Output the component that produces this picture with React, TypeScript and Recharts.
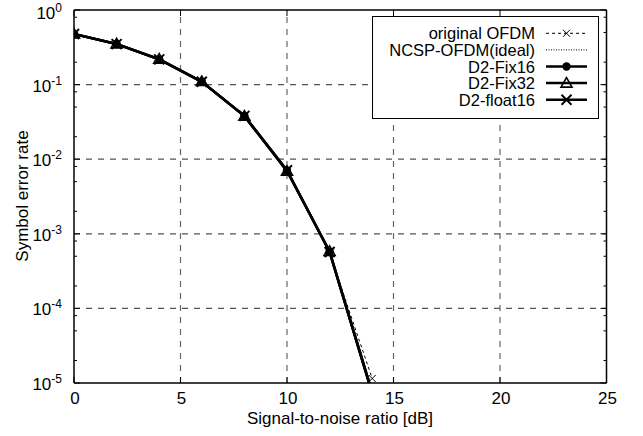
import React from 'react';
import { ComposedChart, Line, XAxis, YAxis, ReferenceLine, Legend } from 'recharts';

const snrDb = [0, 2, 4, 6, 8, 10, 12, 14];
const originalOfdm = [0.476, 0.35, 0.217, 0.108, 0.0375, 0.0068, 5.5e-4, 1.15e-5];
const ncspIdeal = [0.477, 0.35, 0.218, 0.109, 0.038, 0.007, 5.9e-4, 8.4e-6];
const d2Fix16 = [0.477, 0.35, 0.218, 0.109, 0.038, 0.007, 5.75e-4, 7.3e-6];
const d2Fix32 = [0.478, 0.351, 0.219, 0.11, 0.0378, 0.0069, 5.8e-4, 7.4e-6];
const d2Float16 = [0.476, 0.349, 0.218, 0.109, 0.0381, 0.0071, 5.7e-4, 7.2e-6];

const seriesNames = ['original OFDM', 'NCSP-OFDM(ideal)', 'D2-Fix16', 'D2-Fix32', 'D2-float16'];

const xTicks = [0, 5, 10, 15, 20, 25];
const xGridValues = [5, 10, 15, 20];
const yExponents = [-5, -4, -3, -2, -1, 0];
const yMinorMultipliers = [2, 5, 8];
const yGridValues = [1e-4, 1e-3, 1e-2, 1e-1];
const yDomain = [1e-5, 1];

const yTicks: number[] = [];
yExponents.forEach((e) => {
  yTicks.push(Math.pow(10, e));
  if (e < 0) yMinorMultipliers.forEach((m) => yTicks.push(m * Math.pow(10, e)));
});

const data = snrDb.map((snr, i) => ({
  snr,
  ofdm: originalOfdm[i],
  ncsp: ncspIdeal[i],
  fix16: d2Fix16[i],
  fix32: d2Fix32[i],
  float16: d2Float16[i],
}));

const FONT = '"Liberation Sans", Arial, Helvetica, sans-serif';

const isMajor = (v: number) => {
  const lg = Math.log10(v);
  return Math.abs(lg - Math.round(lg)) < 1e-6;
};

const LeftTick = (props: any) => {
  const { x, y, payload } = props;
  const v = payload.value;
  const major = isMajor(v);
  return (
    <g>
      <line x1={x} x2={x + (major ? 6 : 3)} y1={y} y2={y} stroke="#000" strokeWidth={1} />
      {major && (
        <text x={x - 12} y={Math.max(y + 7, 19)} textAnchor="end" fontSize={17} fontFamily={FONT} fill="#000">
          <tspan>10</tspan>
          <tspan dy={-7} fontSize={12}>{String(Math.round(Math.log10(v)))}</tspan>
        </text>
      )}
    </g>
  );
};

const RightTick = (props: any) => {
  const { x, y, payload } = props;
  const major = isMajor(payload.value);
  return <line x1={x} x2={x - (major ? 6 : 3)} y1={y} y2={y} stroke="#000" strokeWidth={1} />;
};

const BottomTick = (props: any) => {
  const { x, y, payload } = props;
  return (
    <g>
      <line x1={x} x2={x} y1={y} y2={y - 6} stroke="#000" strokeWidth={1} />
      <text x={x + 1} y={y + 21} textAnchor="middle" fontSize={17} fontFamily={FONT} fill="#000">
        {payload.value}
      </text>
    </g>
  );
};

const TopTick = (props: any) => {
  const { x, y } = props;
  return <line x1={x} x2={x} y1={y} y2={y + 6} stroke="#000" strokeWidth={1} />;
};

const CrossMark = ({ cx, cy, s, sw }: any) => (
  <g>
    <line x1={cx - s} y1={cy - s} x2={cx + s} y2={cy + s} stroke="#000" strokeWidth={sw} />
    <line x1={cx - s} y1={cy + s} x2={cx + s} y2={cy - s} stroke="#000" strokeWidth={sw} />
  </g>
);

const CircleMark = ({ cx, cy }: any) => <circle cx={cx} cy={cy} r={4.2} fill="#000" />;

const TriMark = ({ cx, cy }: any) => (
  <polygon
    points={`${cx},${cy - 5.5} ${cx - 5.5},${cy + 4} ${cx + 5.5},${cy + 4}`}
    fill="none"
    stroke="#000"
    strokeWidth={1.6}
  />
);

const visible = (p: any) =>
  p && p.value !== undefined && p.value >= yDomain[0] && p.cx != null && p.cy != null;

const ofdmDot = (p: any) =>
  visible(p) ? <CrossMark key={p.key} cx={p.cx} cy={p.cy} s={3.5} sw={1} /> : <g key={p.key} />;
const fix16Dot = (p: any) => (visible(p) ? <CircleMark key={p.key} cx={p.cx} cy={p.cy} /> : <g key={p.key} />);
const fix32Dot = (p: any) => (visible(p) ? <TriMark key={p.key} cx={p.cx} cy={p.cy} /> : <g key={p.key} />);
const float16Dot = (p: any) =>
  visible(p) ? <CrossMark key={p.key} cx={p.cx} cy={p.cy} s={5} sw={2} /> : <g key={p.key} />;

const renderLegend = () => {
  const w = 227;
  const h = 103;
  const textX = 163;
  const l1 = 174;
  const l2 = 215;
  const mx = 194.5;
  return (
    <svg width={w} height={h} style={{ display: 'block' }}>
      <rect x={0.5} y={0.5} width={w - 1} height={h - 1} fill="#fff" stroke="#000" strokeWidth={1} />
      {seriesNames.map((name, i) => {
        const y = 17.3 + i * 16.6;
        let sample: any = null;
        if (i === 0) {
          sample = (
            <g>
              <line x1={l1} x2={l2} y1={y} y2={y} stroke="#000" strokeWidth={1} strokeDasharray="3 3" />
              <CrossMark cx={mx} cy={y} s={3.5} sw={1} />
            </g>
          );
        } else if (i === 1) {
          sample = <line x1={l1} x2={l2} y1={y} y2={y} stroke="#000" strokeWidth={1} strokeDasharray="1 1.5" />;
        } else {
          sample = (
            <g>
              <line x1={l1} x2={l2} y1={y} y2={y} stroke="#000" strokeWidth={2.5} />
              {i === 2 && <CircleMark cx={mx} cy={y} />}
              {i === 3 && <TriMark cx={mx} cy={y} />}
              {i === 4 && <CrossMark cx={mx} cy={y} s={5} sw={2} />}
            </g>
          );
        }
        return (
          <g key={name}>
            <text x={textX} y={y + 6} textAnchor="end" fontSize={16.5} fontFamily={FONT} fill="#000">
              {name}
            </text>
            {sample}
          </g>
        );
      })}
    </svg>
  );
};

export default function App() {
  return (
    <div style={{ position: 'absolute', left: 0, top: 0, width: 643, height: 436, background: '#fff' }}>
      <ComposedChart width={643} height={436} data={data} margin={{ top: 9, right: 35.5, left: 73, bottom: 52 }}>
        <XAxis
          dataKey="snr"
          type="number"
          domain={[0, 25]}
          ticks={xTicks}
          interval={0}
          allowDataOverflow
          height={1}
          tickSize={0}
          tickMargin={0}
          tickLine={false}
          axisLine={{ stroke: '#000', strokeWidth: 1.5 }}
          tick={<BottomTick />}
        />
        <XAxis
          xAxisId="top"
          orientation="top"
          dataKey="snr"
          type="number"
          domain={[0, 25]}
          ticks={xTicks}
          interval={0}
          allowDataOverflow
          height={1}
          tickSize={0}
          tickMargin={0}
          tickLine={false}
          axisLine={{ stroke: '#000', strokeWidth: 1.5 }}
          tick={<TopTick />}
        />
        <YAxis
          type="number"
          scale="log"
          domain={yDomain}
          ticks={yTicks}
          interval={0}
          allowDataOverflow
          width={1}
          tickSize={0}
          tickMargin={0}
          tickLine={false}
          axisLine={{ stroke: '#000', strokeWidth: 1.5 }}
          tick={<LeftTick />}
          label={{
            content: () => (
              <text
                x={22}
                y={196}
                transform="rotate(-90, 22, 196)"
                textAnchor="middle"
                dominantBaseline="central"
                fontSize={17}
                fontFamily={FONT}
                fill="#000"
              >
                Symbol error rate
              </text>
            ),
          }}
        />
        <YAxis
          yAxisId="right"
          orientation="right"
          type="number"
          scale="log"
          domain={yDomain}
          ticks={yTicks}
          interval={0}
          allowDataOverflow
          width={1}
          tickSize={0}
          tickMargin={0}
          tickLine={false}
          axisLine={{ stroke: '#000', strokeWidth: 1.5 }}
          tick={<RightTick />}
        />
        {xGridValues.map((v) => (
          <ReferenceLine key={'gx' + v} x={v} stroke="#666" strokeWidth={1.2} strokeDasharray="6 6" />
        ))}
        {yGridValues.map((v) => (
          <ReferenceLine key={'gy' + v} y={v} stroke="#555" strokeWidth={1.2} strokeDasharray="6 6" />
        ))}
        <Line
          dataKey="ofdm"
          name={seriesNames[0]}
          stroke="#000"
          strokeWidth={1}
          strokeDasharray="3 3"
          dot={ofdmDot}
          isAnimationActive={false}
        />
        <Line
          dataKey="ncsp"
          name={seriesNames[1]}
          stroke="#000"
          strokeWidth={1}
          strokeDasharray="1 1.5"
          dot={false}
          isAnimationActive={false}
        />
        <Line
          dataKey="fix16"
          name={seriesNames[2]}
          stroke="#000"
          strokeWidth={2.5}
          dot={fix16Dot}
          isAnimationActive={false}
        />
        <Line
          dataKey="fix32"
          name={seriesNames[3]}
          stroke="#000"
          strokeWidth={2.5}
          dot={fix32Dot}
          isAnimationActive={false}
        />
        <Line
          dataKey="float16"
          name={seriesNames[4]}
          stroke="#000"
          strokeWidth={2.5}
          dot={float16Dot}
          isAnimationActive={false}
        />
        <Legend
          layout="vertical"
          align="center"
          verticalAlign="middle"
          content={renderLegend}
          wrapperStyle={{ left: 372, top: 16, width: 227, height: 103, margin: 0, padding: 0 }}
        />
        <text
          x={340}
          y={424}
          textAnchor="middle"
          fontSize={17}
          fontFamily={FONT}
          fill="#000"
        >
          Signal-to-noise ratio [dB]
        </text>
      </ComposedChart>
    </div>
  );
}
